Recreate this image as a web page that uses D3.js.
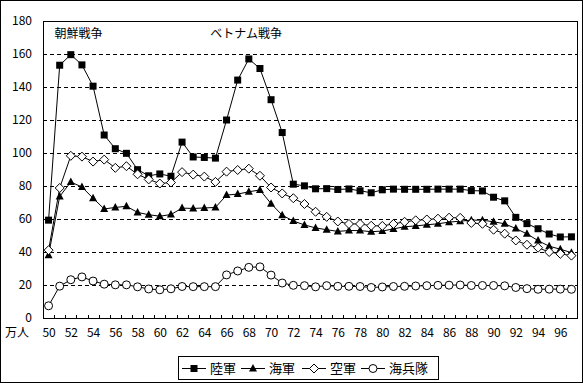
<!DOCTYPE html>
<html>
<head>
<meta charset="utf-8">
<script src="https://cdn.jsdelivr.net/npm/d3@7"></script>
<style>
  html, body { margin: 0; padding: 0; background: #fff; }
  svg text { font-family: "Noto Sans CJK JP", "Noto Sans", sans-serif; fill: #000; }
</style>
</head>
<body>
<div class="chart"></div>
<script>
// 年 (1950-1997)
var years = d3.range(1950, 1998);
var xTickYears = d3.range(1950, 1998, 2);
var yTicks = [0, 20, 40, 60, 80, 100, 120, 140, 160, 180];

// 万人
var army = [59.3, 153.2, 159.6, 153.4, 140.5, 110.9, 102.6, 99.8, 89.9, 86.2,
  87.3, 85.9, 106.6, 97.6, 97.3, 96.9, 120.0, 144.2, 157.0, 151.2,
  132.3, 112.4, 81.1, 80.1, 78.3, 78.4, 77.9, 78.2, 77.1, 75.9,
  77.7, 78.1, 78.0, 78.0, 78.0, 78.1, 78.1, 78.1, 77.2, 77.0,
  73.2, 71.0, 61.0, 57.2, 54.1, 50.9, 49.1, 49.2];
var navy = [38.1, 73.7, 82.4, 79.4, 72.6, 66.1, 67.0, 67.7, 64.0, 62.6,
  61.7, 62.7, 66.6, 66.4, 66.7, 67.0, 74.5, 75.1, 76.5, 77.6,
  69.3, 62.3, 58.8, 56.4, 54.6, 53.5, 52.5, 53.0, 53.0, 52.3,
  52.7, 54.0, 55.3, 55.8, 56.5, 57.1, 58.1, 58.7, 59.3, 59.3,
  58.3, 57.1, 54.2, 51.0, 46.9, 43.5, 41.7, 39.6];
var airForce = [41.1, 78.8, 98.3, 97.8, 94.8, 96.0, 91.0, 92.0, 87.1, 84.0,
  81.5, 82.1, 88.4, 86.9, 85.7, 82.5, 88.7, 89.7, 90.5, 86.2,
  79.1, 75.5, 72.6, 69.1, 64.4, 61.3, 58.5, 57.0, 57.0, 55.9,
  55.8, 57.0, 58.3, 59.2, 59.7, 60.2, 60.8, 60.7, 57.6, 57.1,
  53.5, 51.1, 47.0, 44.4, 42.6, 40.0, 38.9, 37.8];
var marines = [7.4, 19.3, 23.2, 24.9, 22.4, 20.5, 20.1, 20.1, 18.9, 17.6,
  17.1, 17.7, 19.1, 19.0, 19.0, 19.0, 26.1, 28.5, 30.7, 31.0,
  26.0, 21.2, 19.8, 19.6, 18.9, 19.6, 19.2, 19.2, 19.1, 18.5,
  18.8, 19.1, 19.2, 19.4, 19.6, 19.8, 19.9, 20.0, 19.7, 19.7,
  19.7, 19.5, 18.5, 17.8, 17.4, 17.5, 17.5, 17.4];

var seriesNames = ["陸軍", "海軍", "空軍", "海兵隊"];
var seriesValues = [army, navy, airForce, marines];
var markerKinds = ["square", "triangle", "diamond", "circle"];

var annotations = [
  {text: "朝鮮戦争", year: 1950},
  {text: "ベトナム戦争", year: 1964}
];

var W = 583, H = 383;
var plot = {left: 43, top: 21, right: 577, bottom: 318};

var svg = d3.select(".chart").append("svg")
  .attr("width", W)
  .attr("height", H);

// outer frame
svg.append("rect")
  .attr("x", 0.5).attr("y", 0.5)
  .attr("width", W - 1).attr("height", H - 1)
  .attr("fill", "#fff").attr("stroke", "#000");

var x = d3.scalePoint().domain(years).range([plot.left, plot.right]).padding(0.5);
var xBand = d3.scaleBand().domain(years).range([plot.left, plot.right]);
var y = d3.scaleLinear().domain([0, 180]).range([plot.bottom, plot.top]);

// gridlines
svg.append("g")
  .selectAll("line")
  .data(yTicks.filter(function (d) { return d > 0 && d < 180; }))
  .enter().append("line")
  .attr("x1", plot.left).attr("x2", plot.right)
  .attr("y1", function (d) { return Math.round(y(d)) + 0.5; })
  .attr("y2", function (d) { return Math.round(y(d)) + 0.5; })
  .attr("stroke", "#000")
  .attr("stroke-dasharray", "4,3");

// plot border
svg.append("rect")
  .attr("x", plot.left + 0.5).attr("y", plot.top + 0.5)
  .attr("width", plot.right - plot.left).attr("height", plot.bottom - plot.top)
  .attr("fill", "none").attr("stroke", "#000");

// x ticks between categories (inside)
svg.append("g")
  .selectAll("line")
  .data(years.slice(1))
  .enter().append("line")
  .attr("x1", function (d) { return Math.round(xBand(d)) + 0.5; })
  .attr("x2", function (d) { return Math.round(xBand(d)) + 0.5; })
  .attr("y1", plot.bottom + 0.5).attr("y2", plot.bottom - 3)
  .attr("stroke", "#000");

// y axis labels
var yAxis = svg.append("g")
  .attr("transform", "translate(" + plot.left + ",0)")
  .call(d3.axisLeft(y).tickValues(yTicks).tickSize(0).tickPadding(11));
yAxis.select(".domain").remove();
yAxis.selectAll("text").attr("font-size", 12).attr("font-family", null);

// x axis labels
var xAxis = svg.append("g")
  .attr("transform", "translate(0," + plot.bottom + ")")
  .call(d3.axisBottom(x).tickValues(xTickYears).tickSize(0).tickPadding(10)
    .tickFormat(function (d) { return String(d % 100); }));
xAxis.select(".domain").remove();
xAxis.selectAll("text").attr("font-size", 12).attr("font-family", null);

svg.append("text")
  .attr("x", 5).attr("y", 337)
  .attr("font-size", 12)
  .text("万人");

// war annotations
svg.append("g")
  .selectAll("text")
  .data(annotations)
  .enter().append("text")
  .attr("x", function (d) { return x(d.year) + 6; })
  .attr("y", 38)
  .attr("font-size", 12)
  .text(function (d) { return d.text; });

function drawMarker(g, kind, cx, cy) {
  if (kind === "square") {
    g.append("rect").attr("x", cx - 3.5).attr("y", cy - 3.5)
      .attr("width", 7).attr("height", 7).attr("fill", "#000");
  } else if (kind === "triangle") {
    g.append("path")
      .attr("d", "M" + cx + "," + (cy - 4.5) + "L" + (cx + 4) + "," + (cy + 3) + "L" + (cx - 4) + "," + (cy + 3) + "Z")
      .attr("fill", "#000");
  } else if (kind === "diamond") {
    g.append("path")
      .attr("d", "M" + cx + "," + (cy - 4.5) + "L" + (cx + 4.5) + "," + cy + "L" + cx + "," + (cy + 4.5) + "L" + (cx - 4.5) + "," + cy + "Z")
      .attr("fill", "#fff").attr("stroke", "#000");
  } else {
    g.append("circle").attr("cx", cx).attr("cy", cy).attr("r", 4)
      .attr("fill", "#fff").attr("stroke", "#000");
  }
}

var line = d3.line()
  .x(function (d, i) { return x(years[i]); })
  .y(function (d) { return y(d); });

seriesValues.forEach(function (vals, si) {
  var g = svg.append("g");
  g.append("path")
    .attr("d", line(vals))
    .attr("fill", "none")
    .attr("stroke", "#000")
    .attr("stroke-width", 1);
  vals.forEach(function (v, i) {
    drawMarker(g, markerKinds[si], x(years[i]), y(v));
  });
});

// legend
var legend = svg.append("g");
legend.append("rect")
  .attr("x", 178.5).attr("y", 356.5)
  .attr("width", 260).attr("height", 23)
  .attr("fill", "#fff").attr("stroke", "#000");
var legendX = [182, 241, 302, 361];
seriesNames.forEach(function (name, i) {
  var lx = legendX[i], ly = 368;
  legend.append("line")
    .attr("x1", lx).attr("x2", lx + 24)
    .attr("y1", ly + 0.5).attr("y2", ly + 0.5)
    .attr("stroke", "#000");
  drawMarker(legend, markerKinds[i], lx + 12, ly + 0.5);
  legend.append("text")
    .attr("x", lx + 28).attr("y", ly + 5)
    .attr("font-size", 13)
    .text(name);
});
</script>
</body>
</html>
